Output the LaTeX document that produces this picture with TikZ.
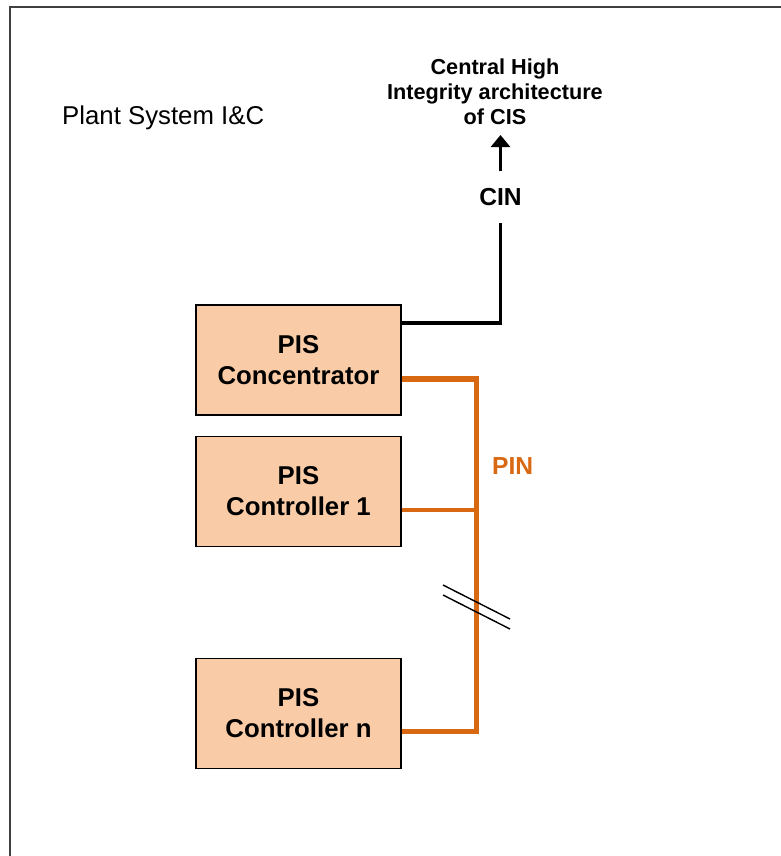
\documentclass[tikz,border=0pt]{standalone}
\usepackage{fontspec}
\setmainfont{Liberation Sans}
\usepackage{xcolor}
\usetikzlibrary{positioning,arrows.meta}
\definecolor{pisfill}{RGB}{249, 204, 167}
\definecolor{pinorange}{RGB}{217, 104, 18}
\definecolor{framegray}{RGB}{64, 64, 64}

\begin{document}
\begin{tikzpicture}[
    x=0.03cm, y=-0.03cm,
    node distance=0.6cm,
    box/.style={rectangle, draw=black, line width=0.9pt, fill=pisfill,
                minimum width=6.15cm, minimum height=3.3cm, align=center,
                font=\fontsize{22}{26.5}\selectfont\bfseries},
    lbl/.style={inner sep=0pt, font=\fontsize{21}{25}\selectfont\bfseries},
    cinline/.style={line width=3.2pt, color=black},
    cinarrow/.style={cinline, -{Triangle[length=0.36cm, width=0.57cm]}},
    pinline/.style={line width=3.4pt, color=pinorange},
    pinbus/.style={line width=4.6pt, color=pinorange},
    breakmark/.style={line width=1.2pt, color=black}
]
    \useasboundingbox (0,0) rectangle (781,856);
    \draw[line width=1.7pt, color=framegray] (10,856) -- (10,7) -- (781,7);

    \node[anchor=west, inner sep=0pt, font=\fontsize{22}{26}\selectfont]
        (plant) at (62,118) {Plant System I\&C};
    \node[anchor=south, align=center, inner xsep=0pt, inner ysep=9pt,
          font=\fontsize{18.5}{21.3}\selectfont\bfseries]
        (central) at (495,135) {Central High\\Integrity architecture\\of CIS};
    \node[lbl, minimum height=1.53cm] (cin) at (500.5,197) {CIN};

    \node[box] (conc) at (298.5,360) {PIS\\Concentrator};
    \node[box, below=of conc] (ctrl1) {PIS\\Controller 1};
    \node[box, below=3.33cm of ctrl1] (ctrln) {PIS\\Controller n};

    % CIN link
    \draw[cinline] ([yshift=1.11cm]conc.east) -| (cin.south);
    \draw[cinarrow] (cin.north) -- (cin.north |- central.south);

    % PIN bus
    \coordinate[right=2.25cm of conc.east, yshift=-0.57cm] (bustop);
    \draw[pinbus] ([yshift=-0.57cm]conc.east) -- (bustop)
        |- ([yshift=-0.56cm]ctrln.east);
    \draw[pinline] ([yshift=-0.56cm]ctrl1.east) -- ([yshift=-0.56cm]ctrl1.east -| bustop);
    \node[lbl, anchor=west, text=pinorange] (pin) at (492,466) {PIN};

    \coordinate (brk) at (476,607);
    \draw[breakmark] ([shift={(-33,-22)}]brk) -- ([shift={(34,12)}]brk);
    \draw[breakmark] ([shift={(-33,-12)}]brk) -- ([shift={(34,22)}]brk);
\end{tikzpicture}
\end{document}
